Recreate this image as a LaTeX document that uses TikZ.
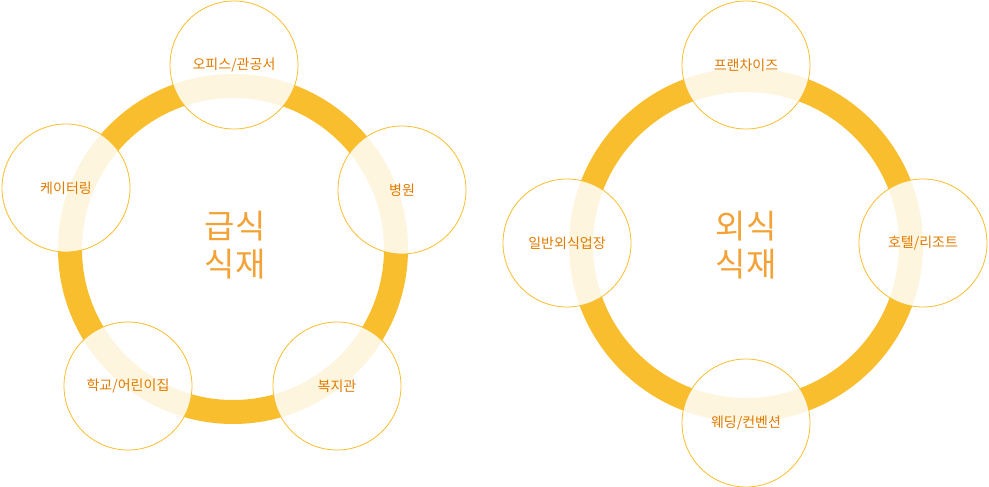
\documentclass[tikz,border=0pt]{standalone}
\usepackage{fontspec}
\newfontfamily\kr{Noto Sans CJK KR}
\definecolor{ring}{HTML}{F9BE2E}
\definecolor{lab}{HTML}{E07B00}
\definecolor{big}{HTML}{F2A236}
\begin{document}
\begin{tikzpicture}[x=1pt,y=-1pt,
  ringline/.style={draw=ring,line width=24pt},
  bubble/.style={circle,draw=ring,line width=0.8pt,fill=white,fill opacity=0.85,text opacity=1,minimum size=128pt,inner sep=0pt,font=\kr\fontsize{14}{16}\selectfont,text=lab},
  center/.style={font=\kr\fontsize{33}{38}\selectfont,text=big,align=center}]
\useasboundingbox (0,0) rectangle (989,487);
\draw[ringline] (233,249) circle (163);
\draw[ringline] (746,245) circle (165);
\node[center] (c1) at (235,245) {급식\\식재};
\node[center] (c2) at (746,245) {외식\\식재};
\node[bubble] (a1) at (234,65) {오피스/관공서};
\node[bubble] (a2) at (402,190) {병원};
\node[bubble] (a3) at (337,386) {복지관};
\node[bubble] (a4) at (128,386) {학교/어린이집};
\node[bubble] (a5) at (66,188) {케이터링};
\node[bubble] (b1) at (746,65) {프랜차이즈};
\node[bubble] (b2) at (923,243) {호텔/리조트};
\node[bubble] (b3) at (746,423) {웨딩/컨벤션};
\node[bubble] (b4) at (567,243) {일반외식업장};
\end{tikzpicture}
\end{document}
